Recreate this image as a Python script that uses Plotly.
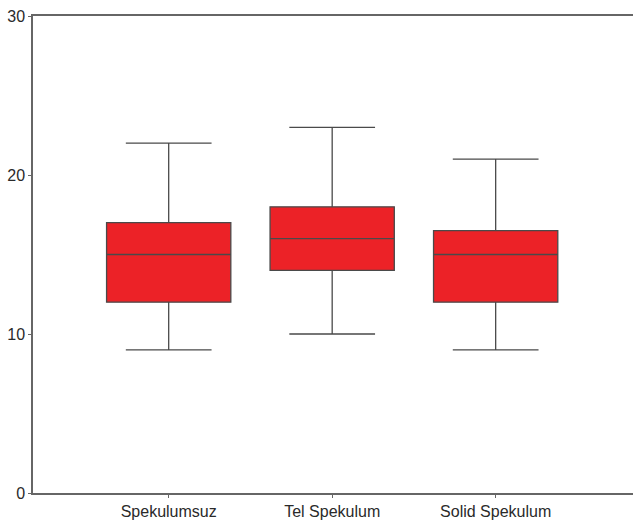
import plotly.graph_objects as go

# Box-plot summary statistics per group
groups = ["Spekulumsuz", "Tel Spekulum", "Solid Spekulum"]
lower_whisker = [9, 10, 9]
q1 = [12, 14, 12]
median = [15, 16, 15]
q3 = [17, 18, 16.5]
upper_whisker = [22, 23, 21]

y_ticks = [0, 10, 20, 30]

fig = go.Figure()
fig.add_trace(go.Box(
    x=groups,
    q1=q1,
    median=median,
    q3=q3,
    lowerfence=lower_whisker,
    upperfence=upper_whisker,
    fillcolor="#EC2227",
    line=dict(color="#4a4a4a", width=1.3),
    width=0.76,
    whiskerwidth=0.69,
    boxpoints=False,
    showlegend=False,
))

axis_font = dict(family="Liberation Sans, Arial, sans-serif", color="#2a2a2a")

fig.update_layout(
    width=633,
    height=520,
    margin=dict(l=33, r=0, t=16, b=27),
    plot_bgcolor="white",
    paper_bgcolor="white",
    xaxis=dict(
        range=[-0.83, 2.84],
        showline=True,
        mirror=True,
        linecolor="#666666",
        linewidth=1.5,
        ticks="outside",
        ticklen=3,
        tickcolor="#666666",
        showgrid=False,
        zeroline=False,
        ticklabelstandoff=0,
        tickfont=dict(size=16, **axis_font),
    ),
    yaxis=dict(
        range=[0, 30],
        tickvals=y_ticks,
        showline=True,
        linecolor="#666666",
        linewidth=1.5,
        ticks="outside",
        ticklen=3,
        tickcolor="#666666",
        showgrid=False,
        zeroline=False,
        tickfont=dict(size=16, **axis_font),
    ),
)

fig.write_html("out.html")
